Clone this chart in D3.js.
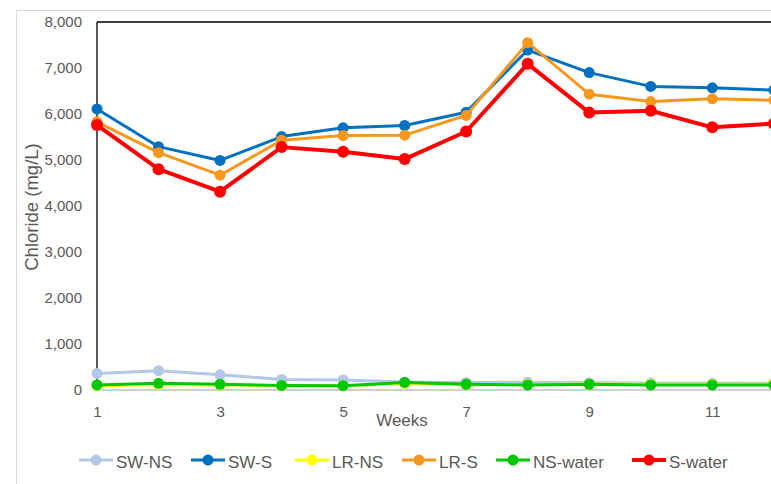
<!DOCTYPE html>
<html lang="en">
	<head>
		<meta charset="utf-8">
		<title>Chloride by week</title>
		<script src="https://d3js.org/d3.v7.min.js"></script>
		<style type="text/css">
body { margin: 0; background: #fff; }
text { font-family: "Liberation Sans", Arial, sans-serif; fill: #595959; }
		</style>
	</head>
	<body>
<div id="chart"></div>
		<script type="text/javascript">
// data
var weeks = [1, 2, 3, 4, 5, 6, 7, 8, 9, 10, 11, 12];
var seriesNames = ["SW-NS", "SW-S", "LR-NS", "LR-S", "NS-water", "S-water"];
var swNS = [360, 420, 330, 230, 220, 175, 165, 170, 160, 150, 150, 145];
var swS = [6110, 5290, 4990, 5510, 5700, 5750, 6040, 7390, 6900, 6600, 6570, 6520];
var lrNS = [90, 120, 110, 95, 90, 140, 115, 120, 130, 125, 125, 125];
var lrS = [5830, 5160, 4670, 5430, 5530, 5540, 5970, 7550, 6430, 6270, 6330, 6300];
var nsWater = [110, 145, 125, 100, 95, 165, 125, 110, 125, 110, 110, 110];
var sWater = [5760, 4800, 4310, 5280, 5180, 5020, 5620, 7090, 6030, 6070, 5710, 5790];
var xTicks = [1, 3, 5, 7, 9, 11];
var yTicks = [0, 1000, 2000, 3000, 4000, 5000, 6000, 7000, 8000];

var colors = ["#B4C7E7", "#0070C0", "#FFFF00", "#F7981E", "#00C800", "#FF0000"];
var widths = [3, 3, 3, 3, 3, 4];
var allValues = [swNS, swS, lrNS, lrS, nsWater, sWater];

var w = 771;
var h = 484;

//Create scale functions
var xScale = d3.scaleLinear()
	.domain([1, 11])
	.range([97, 712.3]);

var yScale = d3.scaleLinear()
	.domain([0, 8000])
	.range([390, 22]);

var svg = d3.select("#chart")
	.append("svg")
	.attr("width", w)
	.attr("height", h);

// outer chart border
svg.append("rect")
	.attr("x", 16.5).attr("y", 10.5)
	.attr("width", w + 20).attr("height", h + 20)
	.attr("fill", "#fff")
	.attr("stroke", "#D9D9D9");

// plot frame: top and left black, bottom grey
svg.append("line")
	.attr("x1", 97).attr("x2", w).attr("y1", 22).attr("y2", 22)
	.attr("stroke", "#000").attr("stroke-width", 1.3);
svg.append("line")
	.attr("x1", 97).attr("x2", w).attr("y1", 390).attr("y2", 390)
	.attr("stroke", "#BFBFBF").attr("stroke-width", 1.3);

// Y axis
var yAxis = d3.axisLeft(yScale)
	.tickValues(yTicks)
	.tickSize(0)
	.tickPadding(15)
	.tickFormat(d3.format(","));
var gy = svg.append("g")
	.attr("transform", "translate(97,0)")
	.call(yAxis);
gy.select(".domain").remove();
gy.selectAll("text").style("font-size", "15px").attr("fill", "#595959");

svg.append("line")
	.attr("x1", 97).attr("x2", 97).attr("y1", 22).attr("y2", 390)
	.attr("stroke", "#000").attr("stroke-width", 1.3);

// X axis
var xAxis = d3.axisBottom(xScale)
	.tickValues(xTicks)
	.tickSize(0)
	.tickPadding(16)
	.tickFormat(d3.format("d"));
var gx = svg.append("g")
	.attr("transform", "translate(0,390)")
	.call(xAxis);
gx.select(".domain").remove();
gx.selectAll("text").style("font-size", "15px").attr("fill", "#595959");

// axis titles
svg.append("text")
	.attr("x", 402).attr("y", 426)
	.attr("text-anchor", "middle")
	.style("font-size", "17px")
	.text("Weeks");

svg.append("text")
	.attr("transform", "translate(38,207) rotate(-90)")
	.attr("text-anchor", "middle")
	.style("font-size", "18.5px")
	.text("Chloride (mg/L)");

// series
var line = d3.line()
	.x(function (d, i) { return xScale(weeks[i]); })
	.y(function (d) { return yScale(d); });

allValues.forEach(function (vals, k) {
	var g = svg.append("g");
	g.append("path")
		.datum(vals)
		.attr("d", line)
		.attr("fill", "none")
		.attr("stroke", colors[k])
		.attr("stroke-width", widths[k])
		.attr("stroke-linejoin", "round");
	g.selectAll("circle")
		.data(vals)
		.enter()
		.append("circle")
		.attr("cx", function (d, i) { return xScale(weeks[i]); })
		.attr("cy", function (d) { return yScale(d); })
		.attr("r", k === 5 ? 6 : 5.5)
		.attr("fill", colors[k]);
});

// legend
var legendX = [96, 208, 312, 419, 513, 649];
var legend = svg.append("g").attr("transform", "translate(0,460)");
seriesNames.forEach(function (name, k) {
	var item = legend.append("g").attr("transform", "translate(" + legendX[k] + ",0)");
	item.append("line")
		.attr("x1", -17).attr("x2", 17)
		.attr("stroke", colors[k]).attr("stroke-width", widths[k]);
	item.append("circle").attr("r", 5.5).attr("fill", colors[k]);
	item.append("text")
		.attr("x", 20).attr("y", 7.5)
		.style("font-size", "17px")
		.text(name);
});
		</script>
	</body>
</html>
